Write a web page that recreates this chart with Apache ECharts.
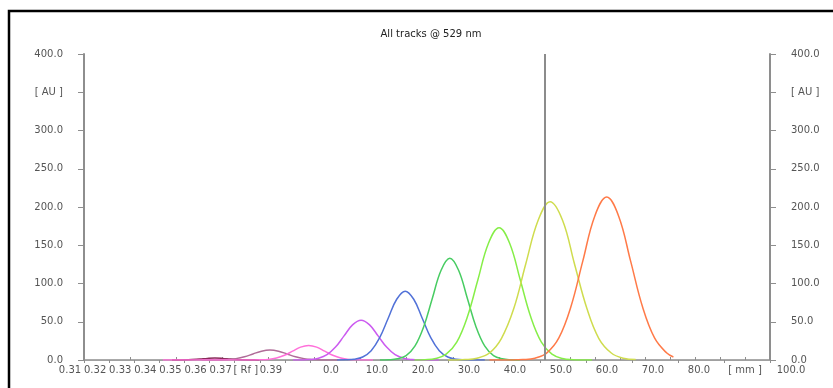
<!DOCTYPE html>
<html>
<head>
<meta charset="utf-8">
<script src="https://cdn.jsdelivr.net/npm/echarts@6/dist/echarts.min.js"></script>
<style>
  html, body { margin: 0; padding: 0; background: #fff; }
  #chart { width: 833px; height: 388px; }
</style>
</head>
<body>
<div id="chart"></div>
<script>
// scanned tracks, [position mm, signal AU]
const track1 = [[-30, 0], [-26.5, 0.4], [-24, 1.3], [-22.3, 2.1], [-20.7, 2.5], [-19, 2.1], [-17.3, 1.3], [-15, 0.4], [-11, 0]];
const track2 = [[-23.5, 0], [-21.65, 0.03], [-19.8, 0.1], [-17.95, 0.6], [-16.1, 1.8], [-14.25, 4.2], [-12.4, 7.9], [-10.55, 11.5], [-8.7, 13],
  [-6.85, 11.5], [-5, 7.9], [-3.15, 4.2], [-1.3, 1.8], [0.55, 0.6], [2.4, 0.1], [4.25, 0.03], [6.1, 0]];
const track3 = [[-32, 0], [-14.3, 0], [-12.55, 0.04], [-10.8, 0.2], [-9.05, 0.8], [-7.3, 2.6], [-5.55, 6.2], [-3.8, 11.5], [-2.05, 16.8], [-0.3, 19],
  [1.45, 16.8], [3.2, 11.5], [4.95, 6.2], [6.7, 2.6], [8.45, 0.8], [10.2, 0.2], [11.95, 0.04], [13.7, 0]];
const track4 = [[-3.7, 0.02], [-1.85, 0.1], [0, 0.6], [1.85, 2.3], [3.7, 7.0], [5.55, 16.9], [7.4, 31.5], [9.25, 45.9], [11.1, 52],
  [12.95, 45.9], [14.8, 31.5], [16.65, 16.9], [18.5, 7.0], [20.35, 2.3], [22.2, 0.6], [24.05, 0.1], [25.9, 0.02], [28, 0]];
const track5 = [[5.9, 0.03], [7.75, 0.2], [9.6, 1.0], [11.45, 3.95], [13.3, 12.2], [15.15, 29.2], [17, 54.6], [18.85, 79.4], [20.7, 90],
  [22.55, 79.4], [24.4, 54.6], [26.25, 29.2], [28.1, 12.2], [29.95, 3.95], [31.8, 1.0], [33.65, 0.2], [35.5, 0.03], [38, 0]];
const track6 = [[15.2, 0.04], [17.1, 0.3], [19, 1.5], [20.9, 5.8], [22.8, 18], [24.7, 43.2], [26.6, 80.7], [28.5, 117.4], [30.4, 133],
  [32.3, 117.4], [34.2, 80.7], [36.1, 43.2], [38, 18], [39.9, 5.8], [41.8, 1.5], [43.7, 0.3], [45.6, 0.04]];
const track7 = [[22.7, 0.05], [25, 0.4], [27.3, 1.9], [29.6, 7.6], [31.9, 23.4], [34.2, 56.2], [36.5, 104.9], [38.8, 152.7], [41.1, 173],
  [43.4, 152.7], [45.7, 104.9], [48, 56.2], [50.3, 23.4], [52.6, 7.6], [54.9, 1.9], [57.2, 0.4], [59.5, 0.05], [61.3, 0]];
const track8 = [[30, 0], [31, 0.06], [33.7, 0.5], [36.3, 2.3], [39, 9.1], [41.6, 28], [44.3, 67.2], [46.9, 125.5], [49.6, 182.7], [52.2, 207],
  [54.9, 182.7], [57.5, 125.5], [60.2, 67.2], [62.8, 28], [65.5, 9.1], [68.1, 2.3], [70.8, 0.5]];
const track9 = [[39, 0], [43.7, 0.06], [46.3, 0.5], [48.9, 2.4], [51.5, 9.4], [54.1, 28.8], [56.7, 69.2], [59.3, 129.2], [61.9, 188], [64.5, 213],
  [67.1, 188], [69.7, 129.2], [72.3, 69.2], [74.9, 28.8], [77.5, 9.4], [79, 4]];

const tracks = [track1, track2, track3, track4, track5, track6, track7, track8, track9];
const trackColors = ['#8a2a5a', '#b06c98', '#ff70da', '#cc5cf0', '#5272d8', '#48cc62', '#86ee48', '#cfdc4e', '#ff7a48'];

// axis labels
const auTicks = ['0.0', '50.0', '100.0', '150.0', '200.0', '250.0', '300.0', '[ AU ]', '400.0'];
const rfTicks = ['0.31', '0.32', '0.33', '0.34', '0.35', '0.36', '0.37', '[ Rf ]', '0.39', ''];
const mmTicks = ['0.0', '10.0', '20.0', '30.0', '40.0', '50.0', '60.0', '70.0', '80.0', '[ mm ]', '100.0'];
const cursorMm = 51.1;

const font = 'DejaVu Sans';
const axisGray = '#8e8e8e';
const labelStyle = { fontFamily: font, fontSize: 10, color: '#555' };

const yAxisCommon = {
  type: 'value', min: 0, max: 400, interval: 50, gridIndex: 0,
  axisLine: { show: true, onZero: false, lineStyle: { color: axisGray, width: 2 } },
  axisTick: { show: true, length: 6, lineStyle: { color: axisGray } },
  splitLine: { show: false },
  axisLabel: Object.assign({ margin: 21, formatter: v => auTicks[Math.round(v / 50)] }, labelStyle)
};

const hiddenY = i => ({ type: 'value', gridIndex: i, show: false, min: 0, max: 1 });

let option = {
  animation: false,
  backgroundColor: '#fff',
  title: {
    text: 'All tracks @ 529 nm',
    left: 431, top: 29, padding: 0, textAlign: 'center',
    textStyle: { fontFamily: font, fontSize: 10, fontWeight: 'normal', color: '#222' }
  },
  graphic: [{
    type: 'rect', silent: true, z: 100,
    shape: { x: 9, y: 11, width: 1000, height: 1000 },
    style: { fill: 'none', stroke: '#000', lineWidth: 2.5 }
  }],
  grid: [
    { left: 84, right: 63, top: 54, bottom: 28, outerBoundsMode: 'none' },   // data
    { left: 84, width: 226, top: 54, bottom: 28, outerBoundsMode: 'none' },  // Rf scale
    { left: 310, right: 63, top: 54, bottom: 28, outerBoundsMode: 'none' },  // mm scale
    { left: 84, width: 461, top: 54, bottom: 28, outerBoundsMode: 'none' },  // top ticks
    { left: 545, right: 63, top: 54, bottom: 28, outerBoundsMode: 'none' }
  ],
  xAxis: [
    { type: 'value', gridIndex: 0, min: -49.13, max: 100, show: false },
    {
      type: 'value', gridIndex: 1, position: 'bottom', min: 31, max: 40, interval: 1,
      axisLine: { show: true, lineStyle: { color: axisGray, width: 1.5 } },
      axisTick: { show: true, length: 3, lineStyle: { color: axisGray } },
      splitLine: { show: false },
      axisLabel: Object.assign({ margin: 5, showMinLabel: true, showMaxLabel: true, padding: [0, 28, 0, 0],
        formatter: v => rfTicks[Math.round(v) - 31] }, labelStyle)
    },
    {
      type: 'value', gridIndex: 2, position: 'bottom', min: 0, max: 100, interval: 10,
      axisLine: { show: true, lineStyle: { color: axisGray, width: 1.5 } },
      axisTick: { show: true, length: 3, lineStyle: { color: axisGray } },
      splitLine: { show: false },
      axisLabel: Object.assign({ margin: 5, showMinLabel: true, showMaxLabel: true, padding: [0, 0, 0, 42],
        formatter: v => mmTicks[Math.round(v / 10)] }, labelStyle)
    },
    {
      type: 'value', gridIndex: 3, position: 'top', min: 0, max: 100, interval: 10,
      axisLine: { show: true, lineStyle: { color: '#a0a0a0', width: 1 } },
      axisTick: { show: true, length: 3, lineStyle: { color: axisGray } },
      axisLabel: { show: false }, splitLine: { show: false }
    },
    {
      type: 'value', gridIndex: 4, position: 'top', min: 31, max: 40, interval: 1,
      axisLine: { show: true, lineStyle: { color: '#a0a0a0', width: 1 } },
      axisTick: { show: true, length: 3, lineStyle: { color: axisGray } },
      axisLabel: { show: false }, splitLine: { show: false }
    }
  ],
  yAxis: [
    Object.assign({}, yAxisCommon, { position: 'left' }),
    Object.assign({}, yAxisCommon, { position: 'right' }),
    hiddenY(1), hiddenY(2), hiddenY(3), hiddenY(4)
  ],
  series: tracks.map((d, i) => ({
    name: 'Track ' + (i + 1),
    type: 'line',
    xAxisIndex: 0,
    yAxisIndex: 0,
    data: d,
    smooth: 0.4,
    symbol: 'none',
    silent: true,
    lineStyle: { color: trackColors[i], width: 1.5 },
    itemStyle: { color: trackColors[i] },
    markLine: i === tracks.length - 1 ? {
      symbol: 'none', silent: true, label: { show: false },
      lineStyle: { color: '#8c8c8c', width: 2, type: 'solid' },
      data: [{ xAxis: cursorMm }]
    } : undefined
  }))
};

let myChart = echarts.init(document.getElementById('chart'));
myChart.setOption(option);
</script>
</body>
</html>
